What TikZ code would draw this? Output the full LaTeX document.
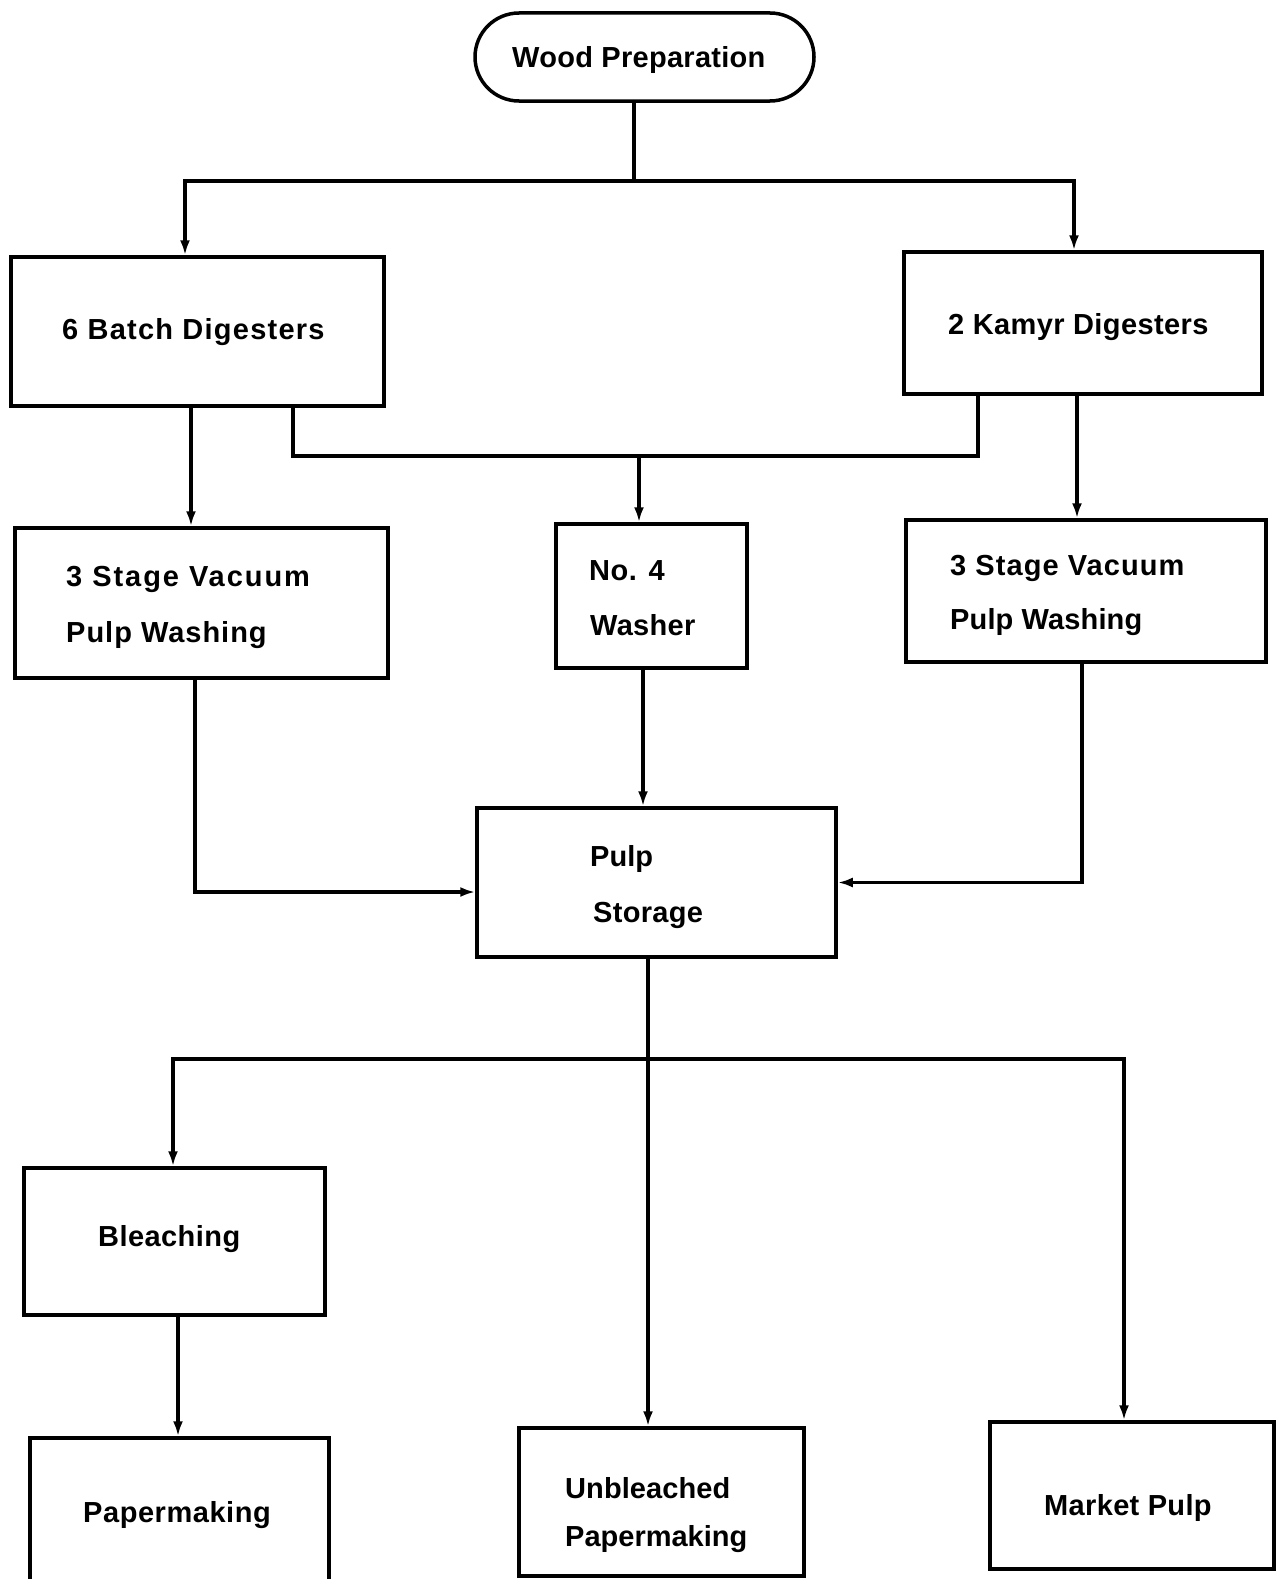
\documentclass[tikz,border=0pt]{standalone}
\usepackage{fontspec}
\setmainfont{Liberation Sans}
\usetikzlibrary{arrows.meta}
\begin{document}
\begin{tikzpicture}[x=1pt,y=-1pt,
  box/.style={draw, line width=3.5pt, rectangle, inner sep=0pt},
  lbl/.style={anchor=base west, inner sep=0pt,
    font=\fontsize{29}{34}\selectfont\bfseries\addfontfeatures{LetterSpace=#1}},
  lbl/.default=1,
  wire/.style={line width=3.5pt},
  arr/.style={line width=3.5pt, -{Latex[length=15pt,width=10pt]}}]
\useasboundingbox (0,0) rectangle (1278,1579);
\clip (0,0) rectangle (1278,1579);

% process boxes
\node[box, rounded corners=44pt, minimum width=339pt, minimum height=88pt] (wood) at (644.5,57) {};
\node[box, minimum width=373pt, minimum height=149pt] (batch) at (197.5,331.5) {};
\node[box, minimum width=358pt, minimum height=142pt] (kamyr) at (1083,323) {};
\node[box, minimum width=373pt, minimum height=150pt] (washL) at (201.5,603) {};
\node[box, minimum width=191pt, minimum height=144pt] (no4) at (651.5,596) {};
\node[box, minimum width=360pt, minimum height=142pt] (washR) at (1086,591) {};
\node[box, minimum width=359pt, minimum height=149pt] (pulp) at (656.5,882.5) {};
\node[box, minimum width=301pt, minimum height=147pt] (bleach) at (174.5,1241.5) {};
\node[box, minimum width=299pt, minimum height=162pt] (paper) at (179.5,1519) {};
\node[box, minimum width=285pt, minimum height=148pt] (unbl) at (661.5,1502) {};
\node[box, minimum width=284pt, minimum height=147pt] (market) at (1132,1495.5) {};

% labels
\node[lbl] (tWood) at (512,67) {Wood Preparation};
\node[lbl=4.3] (tBatch) at (62,339) {6 Batch Digesters};
\node[lbl=1.4] (tKamyr) at (948,334) {2 Kamyr Digesters};
\node[lbl=6.7] (tWashL1) at (66,586) {3 Stage Vacuum};
\node[lbl=3.4] (tWashL2) at (66,642) {Pulp Washing};
\node[lbl=2] (tNo4a) at (589,580) {No. 4};
\node[lbl=1] (tNo4b) at (590,635) {Washer};
\node[lbl=3.7] (tWashR1) at (950,575) {3 Stage Vacuum};
\node[lbl=0.5] (tWashR2) at (950,629) {Pulp Washing};
\node[lbl=0] (tPulp1) at (590,866) {Pulp};
\node[lbl=1] (tPulp2) at (593,922) {Storage};
\node[lbl=1.5] (tBleach) at (98,1246) {Bleaching};
\node[lbl=1.9] (tPaper) at (83,1522) {Papermaking};
\node[lbl=0.3] (tUnbl1) at (565,1498) {Unbleached};
\node[lbl=0] (tUnbl2) at (565,1546) {Papermaking};
\node[lbl=1.2] (tMarket) at (1044,1515) {Market Pulp};

% junction points
\coordinate (jTop) at (634,181);
\coordinate (jMid) at (639,456);
\coordinate (jBot) at (648,1059);

% wood preparation to the digesters
\draw[wire] (wood.south -| jTop) -- (jTop);
\draw[arr] (jTop) -| ([xshift=-12.5pt]batch.north);
\draw[arr] (jTop) -| ([xshift=-9pt]kamyr.north);

% digesters to washers
\draw[arr] ([xshift=-6.5pt]batch.south) -- ([xshift=-6.5pt]batch.south |- washL.north);
\draw[arr] ([xshift=-6pt]kamyr.south) -- ([xshift=-6pt]kamyr.south |- washR.north);
\draw[wire] ([xshift=95.5pt]batch.south) |- (jMid) -| ([xshift=-105pt]kamyr.south);
\draw[arr] (jMid) -- (jMid |- no4.north);

% washers to pulp storage
\draw[arr] ([xshift=-6.5pt]washL.south) |- ([yshift=-9.5pt]pulp.west);
\draw[arr] ([xshift=-8.5pt]no4.south) -- ([xshift=-8.5pt]no4.south |- pulp.north);
\draw[arr] ([xshift=-4pt]washR.south) |- (pulp.east);

% pulp storage to end uses
\draw[arr] ([xshift=-8.5pt]pulp.south) -- ([xshift=-13.5pt]unbl.north);
\draw[arr] (jBot) -| ([xshift=-1.5pt]bleach.north);
\draw[arr] (jBot) -| ([xshift=-8pt]market.north);
\draw[arr] ([xshift=3.5pt]bleach.south) -- ([xshift=3.5pt]bleach.south |- paper.north);
\end{tikzpicture}
\end{document}
